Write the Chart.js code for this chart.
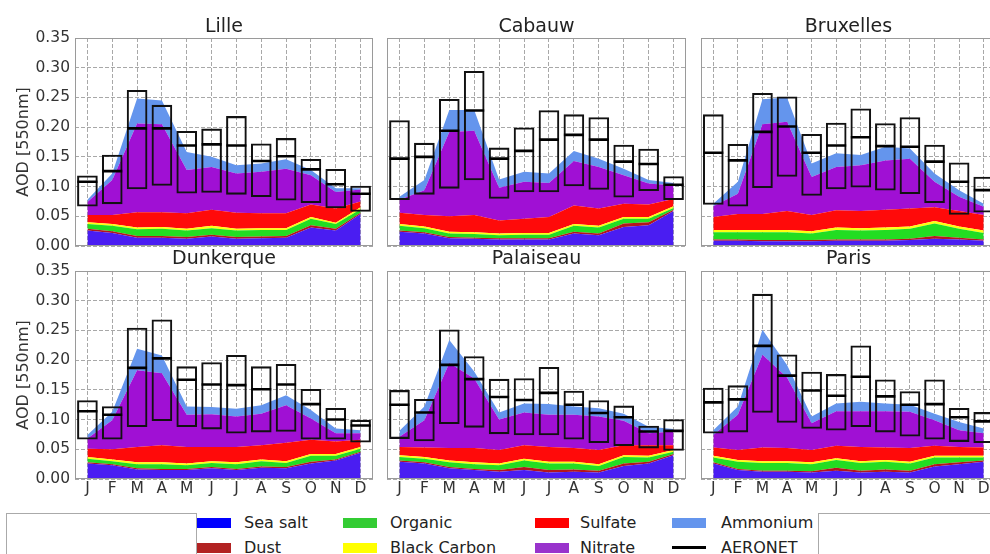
<!DOCTYPE html>
<html>
<head>
<meta charset="utf-8">
<script src="https://cdn.jsdelivr.net/npm/chart.js@4.4.1/dist/chart.umd.min.js"></script>
<style>
  body { margin: 0; width: 990px; height: 554px; overflow: hidden; background: #fff; position: relative; font-family: "DejaVu Sans", sans-serif; }
  canvas { position: absolute; }
  .box { position: absolute; border: 1px solid #aaa; }
  .sw { position: absolute; width: 34px; height: 10px; }
  .lbl { position: absolute; font-size: 16px; color: #222; line-height: 20px; white-space: nowrap; }
</style>
</head>
<body>
<div class="box" style="left:6px;top:513px;width:189px;height:60px"></div>
<div class="box" style="left:818px;top:513px;width:200px;height:60px"></div>
<script>
// months and stations
const months = ['J', 'F', 'M', 'A', 'M', 'J', 'J', 'A', 'S', 'O', 'N', 'D'];
const stations = ['Lille', 'Cabauw', 'Bruxelles', 'Dunkerque', 'Palaiseau', 'Paris'];
const yTicks = [0, 0.05, 0.10, 0.15, 0.20, 0.25, 0.30, 0.35];
const species = ['Sea salt', 'Dust', 'Organic', 'Black Carbon', 'Sulfate', 'Nitrate', 'Ammonium'];

// AOD per species, one row per station (same order as stations)
const seaSalt = [
    [0.026, 0.022, 0.014, 0.014, 0.012, 0.016, 0.012, 0.013, 0.014, 0.031, 0.026, 0.054],
    [0.024, 0.021, 0.013, 0.012, 0.011, 0.011, 0.011, 0.021, 0.018, 0.032, 0.035, 0.059],
    [0.009, 0.009, 0.008, 0.008, 0.008, 0.009, 0.009, 0.009, 0.010, 0.012, 0.011, 0.009],
    [0.026, 0.023, 0.016, 0.015, 0.015, 0.018, 0.015, 0.019, 0.018, 0.026, 0.031, 0.044],
    [0.029, 0.026, 0.018, 0.015, 0.012, 0.015, 0.011, 0.012, 0.011, 0.022, 0.026, 0.040],
    [0.026, 0.015, 0.012, 0.012, 0.011, 0.014, 0.011, 0.012, 0.011, 0.021, 0.025, 0.029]
];
const dust = [
    [0.003, 0.003, 0.003, 0.003, 0.003, 0.003, 0.003, 0.003, 0.003, 0.004, 0.003, 0.002],
    [0.002, 0.002, 0.002, 0.002, 0.002, 0.002, 0.002, 0.003, 0.003, 0.006, 0.005, 0.002],
    [0.002, 0.002, 0.002, 0.002, 0.002, 0.002, 0.002, 0.002, 0.002, 0.005, 0.003, 0.002],
    [0.002, 0.002, 0.002, 0.002, 0.002, 0.002, 0.002, 0.002, 0.002, 0.003, 0.002, 0.002],
    [0.002, 0.002, 0.002, 0.002, 0.003, 0.005, 0.004, 0.004, 0.003, 0.004, 0.003, 0.002],
    [0.002, 0.002, 0.002, 0.002, 0.002, 0.005, 0.003, 0.004, 0.003, 0.004, 0.003, 0.002]
];
const organic = [
    [0.008, 0.009, 0.011, 0.012, 0.011, 0.011, 0.011, 0.011, 0.010, 0.011, 0.008, 0.006],
    [0.008, 0.007, 0.006, 0.006, 0.005, 0.006, 0.006, 0.010, 0.010, 0.008, 0.006, 0.003],
    [0.012, 0.012, 0.013, 0.013, 0.011, 0.016, 0.015, 0.016, 0.017, 0.021, 0.015, 0.011],
    [0.006, 0.005, 0.007, 0.008, 0.006, 0.007, 0.008, 0.009, 0.007, 0.010, 0.006, 0.005],
    [0.006, 0.006, 0.008, 0.008, 0.008, 0.011, 0.011, 0.010, 0.008, 0.011, 0.007, 0.004],
    [0.008, 0.012, 0.013, 0.013, 0.012, 0.013, 0.013, 0.013, 0.012, 0.011, 0.008, 0.005]
];
const blackCarbon = [
    [0.003, 0.003, 0.003, 0.003, 0.003, 0.004, 0.003, 0.003, 0.003, 0.003, 0.002, 0.003],
    [0.003, 0.003, 0.003, 0.003, 0.003, 0.003, 0.003, 0.003, 0.003, 0.003, 0.003, 0.003],
    [0.004, 0.004, 0.004, 0.004, 0.004, 0.004, 0.004, 0.004, 0.004, 0.004, 0.004, 0.004],
    [0.003, 0.003, 0.003, 0.003, 0.003, 0.003, 0.003, 0.003, 0.003, 0.003, 0.003, 0.003],
    [0.003, 0.003, 0.003, 0.003, 0.003, 0.003, 0.003, 0.003, 0.003, 0.003, 0.003, 0.003],
    [0.003, 0.003, 0.003, 0.003, 0.003, 0.003, 0.003, 0.003, 0.003, 0.003, 0.003, 0.003]
];
const sulfate = [
    [0.012, 0.015, 0.026, 0.025, 0.026, 0.027, 0.027, 0.025, 0.025, 0.021, 0.024, 0.010],
    [0.019, 0.019, 0.026, 0.029, 0.022, 0.024, 0.027, 0.031, 0.029, 0.022, 0.021, 0.012],
    [0.022, 0.027, 0.027, 0.032, 0.027, 0.029, 0.029, 0.030, 0.030, 0.023, 0.026, 0.026],
    [0.014, 0.017, 0.026, 0.029, 0.028, 0.024, 0.026, 0.024, 0.031, 0.024, 0.021, 0.012],
    [0.014, 0.016, 0.021, 0.024, 0.023, 0.023, 0.025, 0.023, 0.024, 0.017, 0.018, 0.008],
    [0.014, 0.017, 0.023, 0.022, 0.021, 0.021, 0.024, 0.021, 0.023, 0.017, 0.015, 0.014]
];
const nitrate = [
    [0.022, 0.059, 0.149, 0.148, 0.073, 0.072, 0.066, 0.070, 0.075, 0.049, 0.028, 0.020],
    [0.022, 0.042, 0.142, 0.142, 0.055, 0.062, 0.057, 0.075, 0.070, 0.048, 0.035, 0.023],
    [0.018, 0.034, 0.151, 0.150, 0.064, 0.073, 0.077, 0.083, 0.084, 0.043, 0.024, 0.014],
    [0.017, 0.049, 0.129, 0.121, 0.054, 0.055, 0.051, 0.053, 0.063, 0.036, 0.014, 0.011],
    [0.017, 0.046, 0.143, 0.117, 0.051, 0.055, 0.054, 0.056, 0.056, 0.041, 0.020, 0.023],
    [0.021, 0.059, 0.156, 0.119, 0.045, 0.058, 0.060, 0.061, 0.061, 0.043, 0.028, 0.024]
];
const ammonium = [
    [0.004, 0.011, 0.042, 0.040, 0.030, 0.017, 0.014, 0.014, 0.016, 0.009, 0.006, 0.002],
    [0.005, 0.017, 0.037, 0.035, 0.014, 0.017, 0.016, 0.017, 0.014, 0.011, 0.006, 0.004],
    [0.004, 0.020, 0.042, 0.041, 0.023, 0.023, 0.017, 0.023, 0.017, 0.014, 0.011, 0.005],
    [0.006, 0.014, 0.036, 0.030, 0.014, 0.012, 0.013, 0.014, 0.017, 0.014, 0.008, 0.005],
    [0.010, 0.023, 0.039, 0.012, 0.012, 0.015, 0.018, 0.014, 0.014, 0.012, 0.011, 0.004],
    [0.008, 0.014, 0.042, 0.021, 0.011, 0.013, 0.016, 0.013, 0.012, 0.011, 0.014, 0.008]
];

// AERONET boxes (low / high) and mean
const aeronetLow = [
    [0.067, 0.071, 0.096, 0.102, 0.089, 0.090, 0.087, 0.083, 0.077, 0.073, 0.064, 0.058],
    [0.078, 0.087, 0.097, 0.111, 0.080, 0.091, 0.091, 0.101, 0.095, 0.082, 0.093, 0.078],
    [0.070, 0.067, 0.098, 0.117, 0.085, 0.096, 0.099, 0.094, 0.088, 0.073, 0.053, 0.057],
    [0.067, 0.067, 0.088, 0.098, 0.088, 0.084, 0.077, 0.079, 0.080, 0.067, 0.067, 0.062],
    [0.068, 0.064, 0.093, 0.087, 0.076, 0.074, 0.074, 0.067, 0.061, 0.056, 0.052, 0.048],
    [0.077, 0.079, 0.112, 0.095, 0.085, 0.082, 0.088, 0.079, 0.072, 0.067, 0.063, 0.061]
];
const aeronetHigh = [
    [0.118, 0.153, 0.262, 0.237, 0.193, 0.197, 0.218, 0.172, 0.181, 0.146, 0.129, 0.101],
    [0.211, 0.173, 0.247, 0.294, 0.165, 0.199, 0.228, 0.221, 0.216, 0.170, 0.163, 0.117],
    [0.221, 0.171, 0.257, 0.251, 0.188, 0.207, 0.231, 0.206, 0.216, 0.170, 0.140, 0.116],
    [0.132, 0.122, 0.254, 0.268, 0.189, 0.196, 0.208, 0.189, 0.193, 0.151, 0.119, 0.099],
    [0.149, 0.134, 0.251, 0.206, 0.168, 0.169, 0.188, 0.148, 0.132, 0.123, 0.089, 0.100],
    [0.153, 0.157, 0.311, 0.209, 0.180, 0.176, 0.224, 0.167, 0.147, 0.167, 0.119, 0.112]
];
const aeronetMean = [
    [0.108, 0.126, 0.198, 0.198, 0.169, 0.171, 0.169, 0.143, 0.151, 0.129, 0.104, 0.088],
    [0.147, 0.150, 0.194, 0.228, 0.147, 0.160, 0.179, 0.187, 0.179, 0.142, 0.138, 0.103],
    [0.157, 0.144, 0.192, 0.201, 0.157, 0.169, 0.183, 0.168, 0.167, 0.142, 0.108, 0.094],
    [0.114, 0.108, 0.187, 0.203, 0.167, 0.159, 0.158, 0.151, 0.159, 0.126, 0.100, 0.090],
    [0.125, 0.112, 0.192, 0.168, 0.138, 0.133, 0.145, 0.125, 0.111, 0.104, 0.080, 0.081],
    [0.129, 0.134, 0.224, 0.174, 0.149, 0.140, 0.172, 0.139, 0.125, 0.126, 0.104, 0.097]
];

const layers = [seaSalt, dust, organic, blackCarbon, sulfate, nitrate, ammonium];
const fillColors = ['#4a1df2', '#b3161c', '#22dd22', '#ffff10', '#ff0a0a', '#a010d4', '#6495ed'];
const legendColors = ['#0000ff', '#b22222', '#33cc33', '#ffff00', '#ff0000', '#9933cc', '#6495ed'];

Chart.defaults.font.family = '"DejaVu Sans", sans-serif';

// panel placement: canvas box, y-axis width, right padding, plot bottom inside the canvas
const panels = [
    { left: 0,   top: 0,   w: 380, h: 262, yW: 75, padR: 7, plotBottom: 246 },
    { left: 380, top: 0,   w: 310, h: 262, yW: 7,  padR: 4, plotBottom: 246 },
    { left: 690, top: 0,   w: 310, h: 262, yW: 11, padR: 4, plotBottom: 246 },
    { left: 0,   top: 246, w: 380, h: 264, yW: 75, padR: 7, plotBottom: 233 },
    { left: 380, top: 246, w: 310, h: 264, yW: 7,  padR: 4, plotBottom: 233 },
    { left: 690, top: 246, w: 310, h: 264, yW: 11, padR: 4, plotBottom: 233 }
];

const frame = {
    id: 'frame',
    afterDraw(chart) {
        const a = chart.chartArea, c = chart.ctx;
        c.save();
        c.strokeStyle = '#9a9a9a';
        c.lineWidth = 1;
        c.strokeRect(a.left + 0.5, a.top + 0.5, a.right - a.left - 1, a.bottom - a.top - 1);
        c.restore();
    }
};

const gridColor = 'rgba(110,110,110,0.6)';

panels.forEach((p, i) => {
    const bottomRow = i >= 3;
    const firstCol = i % 3 === 0;
    const cv = document.createElement('canvas');
    cv.width = p.w;
    cv.height = p.h;
    cv.style.left = p.left + 'px';
    cv.style.top = p.top + 'px';
    document.body.appendChild(cv);

    const datasets = [];
    datasets.push({
        type: 'line', label: 'AERONET', data: aeronetMean[i], showLine: false,
        pointStyle: 'line', pointRadius: 10, pointHoverRadius: 10,
        pointBorderWidth: 2.6, pointBorderColor: '#000', stack: 'mean', order: 0
    });
    datasets.push({
        type: 'bar', label: 'AERONET range',
        data: aeronetLow[i].map((lo, k) => [lo, aeronetHigh[i][k]]),
        backgroundColor: 'rgba(0,0,0,0)', borderColor: '#111', borderWidth: 1.4,
        borderSkipped: false, barThickness: 20, stack: 'box', order: 1
    });
    layers.forEach((arr, j) => {
        datasets.push({
            type: 'line', label: species[j], data: arr[i], stack: 'aod',
            fill: j === 0 ? 'origin' : '-1', backgroundColor: fillColors[j],
            borderWidth: 0, pointRadius: 0, order: 2
        });
    });

    new Chart(cv, {
        data: { labels: months, datasets: datasets },
        options: {
            responsive: false,
            animation: false,
            events: [],
            layout: { autoPadding: false, padding: { left: 0, right: p.padR, top: 0, bottom: 0 } },
            plugins: {
                legend: { display: false },
                tooltip: { enabled: false },
                title: {
                    display: true, text: stations[i], fullSize: false, color: '#222',
                    font: { size: 19, weight: 'normal' },
                    padding: bottomRow ? { top: 2, bottom: 0.2 } : { top: 15.2, bottom: 0 }
                }
            },
            scales: {
                x: {
                    type: 'category', offset: true, z: 1,
                    grid: { offset: false, color: gridColor, drawTicks: false },
                    border: { display: false, dash: [4, 2] },
                    ticks: { display: bottomRow, padding: 1, color: '#333', font: { size: 15.5 }, maxRotation: 0, autoSkip: false },
                    afterFit: s => { s.height = p.h - p.plotBottom; }
                },
                y: {
                    stacked: true, min: 0, max: 0.35, z: 1,
                    afterBuildTicks: s => { s.ticks = yTicks.map(v => ({ value: v })); },
                    grid: { color: gridColor, drawTicks: false },
                    border: { display: false, dash: [4, 2] },
                    ticks: { display: firstCol, padding: 5, color: '#333', font: { size: 15.5 }, callback: v => v.toFixed(2) },
                    title: { display: firstCol, text: 'AOD [550nm]', color: '#333', font: { size: 16 }, padding: { top: 14, bottom: 0 } },
                    afterFit: s => { s.width = p.yW; }
                }
            }
        },
        plugins: [frame]
    });
});

// figure legend
const legendItems = species.concat(['AERONET']);
const swatchX = [197, 343, 535, 672];
const textX = [244, 390, 580, 721];
const rowY = [523, 547.5];
legendItems.forEach((name, k) => {
    const col = Math.floor(k / 2), row = k % 2;
    const sw = document.createElement('div');
    sw.className = 'sw';
    sw.style.left = swatchX[col] + 'px';
    if (name === 'AERONET') {
        sw.style.top = (rowY[row] - 1.5) + 'px';
        sw.style.height = '3px';
        sw.style.background = '#000';
    } else {
        sw.style.top = (rowY[row] - 5) + 'px';
        sw.style.background = legendColors[k];
    }
    document.body.appendChild(sw);
    const t = document.createElement('div');
    t.className = 'lbl';
    t.style.left = textX[col] + 'px';
    t.style.top = (rowY[row] - 10) + 'px';
    t.textContent = name;
    document.body.appendChild(t);
});
</script>
</body>
</html>
